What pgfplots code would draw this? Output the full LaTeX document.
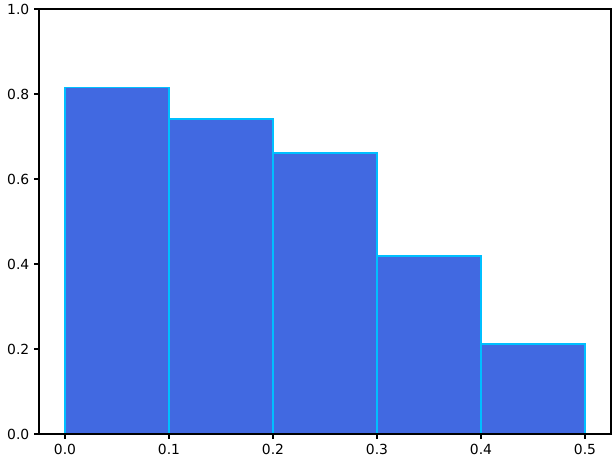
\documentclass[border=0pt]{standalone}
\usepackage{fontspec}
\setmainfont{DejaVu Sans}
\usepackage{pgfplots}
\pgfplotsset{compat=1.18}
\definecolor{royalblue}{RGB}{65,105,225}
\definecolor{deepsky}{RGB}{0,191,255}
\begin{document}
\begin{tikzpicture}
\begin{axis}[
  scale only axis,
  width=411.8pt, height=306pt,
  xmin=-0.025, xmax=0.525,
  ymin=0, ymax=1.0,
  xtick={0,0.1,0.2,0.3,0.4,0.5},
  ytick={0,0.2,0.4,0.6,0.8,1.0},
  tick align=outside,
  tick pos=left,
  major tick length=3.5pt,
  every tick/.style={black, line width=0.8pt},
  axis line style={line width=0.8pt},
  tick label style={font=\fontsize{10pt}{12pt}\selectfont},
  /pgf/number format/assume math mode=true,
  /pgf/number format/fixed,
  /pgf/number format/fixed zerofill,
  /pgf/number format/precision=1,
  xticklabel style={yshift=-0.5pt},
  axis on top,
  ybar, bar width=0.1,
]
\addplot[fill=royalblue, draw=deepsky, line width=0.9pt] coordinates {
  (0.05,0.816) (0.15,0.741) (0.25,0.661) (0.35,0.419) (0.45,0.212)
};
\end{axis}
\pgfresetboundingbox
\path[use as bounding box] ([xshift=-28.1pt,yshift=-19.4pt]current axis.south west) rectangle ([xshift=3.6pt,yshift=6.5pt]current axis.north east);
\end{tikzpicture}
\end{document}
